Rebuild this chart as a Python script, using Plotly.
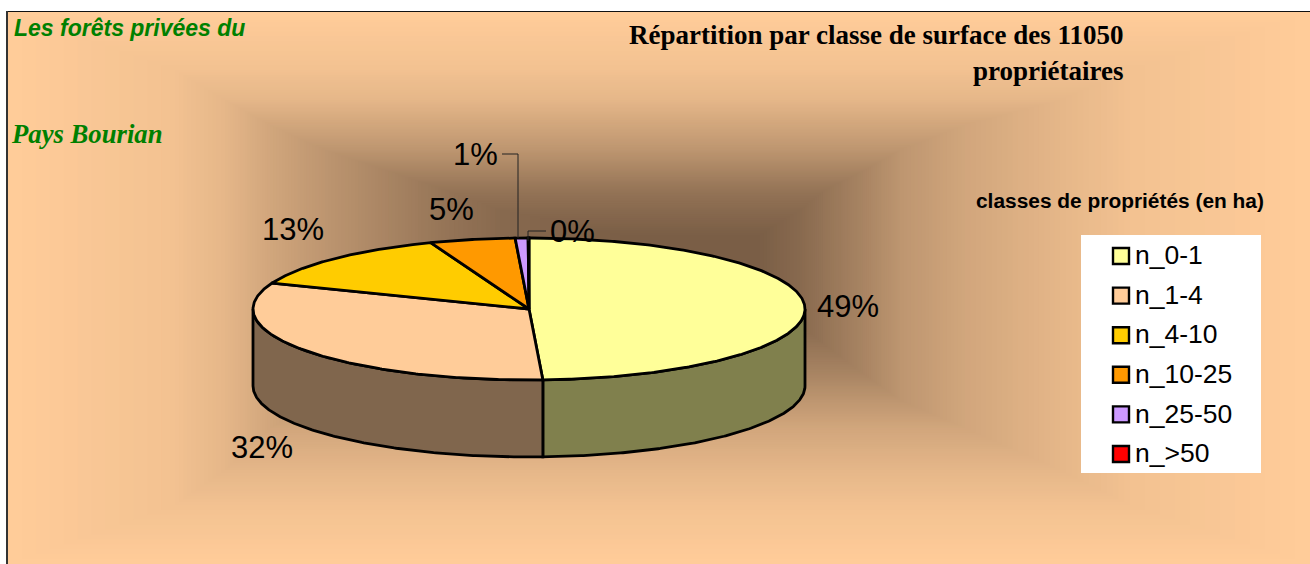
import math
import plotly.graph_objects as go

# ---- data ----
categories = ["n_0-1", "n_1-4", "n_4-10", "n_10-25", "n_25-50", "n_>50"]
values = [49.2, 31.75, 13.25, 5.0, 0.75, 0.05]
top_colors = ["#FFFF99", "#FFCC99", "#FFCC00", "#FF9900", "#CC99FF", "#FF0000"]
side_colors = ["#80804D", "#80664D", "#806600", "#804D00", "#664D80", "#800000"]

# ---- layout constants ----
W, H = 1310, 564
CX, CY, RX, RY, DEPTH = 529, 309, 276, 71, 77
LABEL_POS = [(848, 306), (262, 447), (293, 229), (451, 209), (475, 154), (572, 231)]
PEACH = (255, 204, 153)
DARK = (122, 94, 70)
# background iso-contours: colour level -> rectangle edges
G_LEVEL = [0, 0.1, 0.2, 0.35, 0.5, 0.65, 0.8, 0.9, 1]
G_TOP = [235, 210, 190, 170, 150, 125, 100, 70, 12]
G_BOTTOM = [300, 325, 345, 375, 400, 428, 470, 505, 564]
G_LEFT = [620, 500, 445, 385, 325, 270, 225, 175, 8]
G_RIGHT = [760, 800, 825, 865, 900, 965, 1060, 1130, 1310]


def lerp(k, ys):
    for i in range(len(G_LEVEL) - 1):
        if k <= G_LEVEL[i + 1]:
            f = (k - G_LEVEL[i]) / (G_LEVEL[i + 1] - G_LEVEL[i])
            return ys[i] + (ys[i + 1] - ys[i]) * f
    return ys[-1]


def pt(a, dz=0):
    r = math.radians(a)
    return CX + RX * math.sin(r), CY - RY * math.cos(r) + dz


def arc(a0, a1, dz=0):
    n = max(2, int(abs(a1 - a0) * 2) + 1)
    return [pt(a0 + (a1 - a0) * i / (n - 1), dz) for i in range(n)]


fig = go.Figure()

# nested rectangles giving the rectangular path gradient
shapes = []
STEPS = 120
for i in range(STEPS + 1):
    k = 1 - i / STEPS
    col = tuple(round(DARK[j] + (PEACH[j] - DARK[j]) * k) for j in range(3))
    shapes.append(dict(type="rect", layer="below",
                       x0=lerp(k, G_LEFT), x1=lerp(k, G_RIGHT),
                       y0=lerp(k, G_TOP), y1=lerp(k, G_BOTTOM),
                       fillcolor="rgb(%d,%d,%d)" % col, line=dict(width=0)))
# chart frame
shapes.append(dict(type="line", layer="below", x0=7, x1=1310, y0=11.5, y1=11.5,
                   line=dict(color="#111111", width=1.2)))
shapes.append(dict(type="line", layer="below", x0=7, x1=7, y0=11, y1=564,
                   line=dict(color="#333333", width=2)))
# legend box
shapes.append(dict(type="rect", layer="below", x0=1081, x1=1261, y0=235, y1=473,
                   fillcolor="white", line=dict(width=0)))

total = sum(values)
angles = [0]
for v in values:
    angles.append(angles[-1] + v / total * 360)

# side walls (front half only)
for i, cat in enumerate(categories):
    a0, a1 = max(angles[i], 90), min(angles[i + 1], 270)
    if a1 <= a0:
        continue
    poly = arc(a0, a1) + arc(a1, a0, DEPTH)
    poly.append(poly[0])
    fig.add_trace(go.Scatter(x=[p[0] for p in poly], y=[p[1] for p in poly], mode="lines",
                             fill="toself", fillcolor=side_colors[i],
                             line=dict(color="black", width=2.8), name=cat,
                             hoverinfo="skip", showlegend=False))

# top slices
for i, cat in enumerate(categories):
    poly = [(CX, CY)] + arc(angles[i], angles[i + 1]) + [(CX, CY)]
    fig.add_trace(go.Scatter(x=[p[0] for p in poly], y=[p[1] for p in poly], mode="lines",
                             fill="toself", fillcolor=top_colors[i],
                             line=dict(color="black", width=2.8), name=cat,
                             hoverinfo="name", showlegend=False))

# leader lines for the small slices
a = (angles[4] + angles[5]) / 2
fig.add_trace(go.Scatter(x=[502, 518, 518], y=[154, 154, pt(a)[1]], mode="lines",
                         line=dict(color="#222222", width=1), hoverinfo="skip", showlegend=False))
fig.add_trace(go.Scatter(x=[528, 528, 546], y=[pt(359)[1] + 3, 231, 231], mode="lines",
                         line=dict(color="#222222", width=1), hoverinfo="skip", showlegend=False))

# hand-placed legend (swatch + label)
LEG_X, LEG_TX, LEG_Y0, LEG_DY = 1121, 1135, 256, 39.6
leg_y = [LEG_Y0 + LEG_DY * i for i in range(len(categories))]
fig.add_trace(go.Scatter(
    x=[LEG_X] * len(categories), y=leg_y, mode="markers",
    marker=dict(symbol="square", size=16, color=top_colors, line=dict(color="black", width=2.4)),
    hoverinfo="skip", showlegend=False))
fig.add_trace(go.Scatter(
    x=[LEG_TX] * len(categories), y=[v + 1.5 for v in leg_y], mode="text",
    text=categories, textposition="middle right",
    textfont=dict(family="Liberation Sans", size=26.5, color="black"),
    hoverinfo="skip", showlegend=False))

annotations = []
for v, (x, y) in zip(values, LABEL_POS):
    annotations.append(dict(x=x, y=y, text="%d%%" % round(v), showarrow=False,
                            font=dict(family="Liberation Sans", size=31, color="black")))


def note(x, y, text, family, size, color="black", anchor="left"):
    annotations.append(dict(x=x, y=y, text=text, showarrow=False, xanchor=anchor, yanchor="middle",
                            font=dict(family=family, size=size, color=color)))


note(12, 28, "<b><i>Les forêts privées du</i></b>", "Liberation Sans", 23, "#008000")
note(9, 134, "<b><i>Pays Bourian</i></b>", "Liberation Serif", 26.7, "#008000")
note(1125, 35, "<b>Répartition par classe de surface des 11050</b>", "Liberation Serif", 27, anchor="right")
note(1125, 71, "<b>propriétaires</b>", "Liberation Serif", 27, anchor="right")
note(974, 200, "<b>classes de propriétés (en ha)</b>", "Liberation Sans", 20.9)

fig.update_layout(
    width=W, height=H, autosize=False,
    margin=dict(l=0, r=0, t=0, b=0),
    paper_bgcolor="white", plot_bgcolor="rgba(0,0,0,0)",
    xaxis=dict(range=[0, W], visible=False, fixedrange=True),
    yaxis=dict(range=[H, 0], visible=False, fixedrange=True),
    shapes=shapes, annotations=annotations, showlegend=False,
)
fig.write_html("out.html", config=dict(displayModeBar=False),
               post_script="document.body.style.margin='0';document.body.style.overflow='hidden';")
